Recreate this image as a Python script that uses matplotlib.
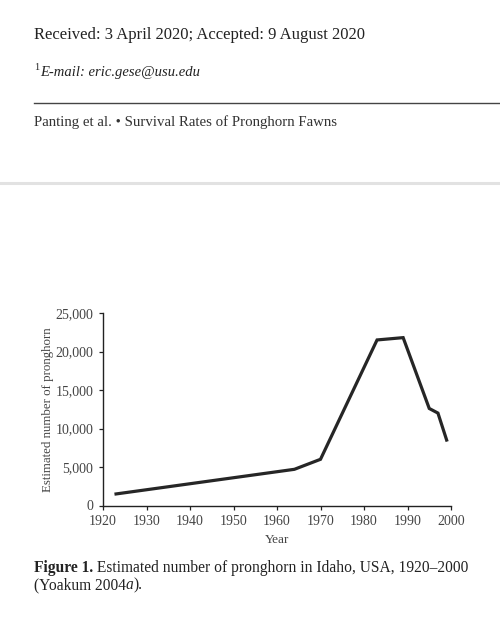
import matplotlib
matplotlib.use("Agg")
import matplotlib.pyplot as plt
from matplotlib.ticker import FuncFormatter

years = [1923, 1964, 1970, 1983, 1989, 1995, 1997, 1999]
pronghorn = [1500, 4700, 6000, 21500, 21800, 12600, 12000, 8500]
xticks = [1920, 1930, 1940, 1950, 1960, 1970, 1980, 1990, 2000]
yticks = [0, 5000, 10000, 15000, 20000, 25000]

plt.rcParams['font.family'] = ['Liberation Serif', 'DejaVu Serif']

W, H = 500, 621
fig = plt.figure(figsize=(5.0, 6.21), dpi=100)
fig.patch.set_facecolor('white')

def fx(px):
    return px / W

def fy(py):
    return 1 - py / H

renderer = fig.canvas.get_renderer()

def run_text(x_px, y_px, pieces, size, color='#222222'):
    x = x_px
    for txt, kw in pieces:
        t = fig.text(fx(x), fy(y_px), txt, fontsize=size, color=color,
                     va='baseline', ha='left', **kw)
        bb = t.get_window_extent(renderer=renderer)
        x += bb.width

# Header texts
fig.text(fx(34), fy(39), "Received: 3 April 2020; Accepted: 9 August 2020",
         fontsize=12, color='#222222', va='baseline', ha='left')
fig.text(fx(34), fy(70), "1", fontsize=7.5, color='#222222', va='baseline', ha='left')
fig.text(fx(40), fy(76), "E-mail: eric.gese@usu.edu", fontsize=10.5, style='italic',
         color='#222222', va='baseline', ha='left')
fig.add_artist(plt.Line2D([fx(34), 1.0], [fy(103), fy(103)], color='#444444', lw=1.0))
fig.text(fx(34), fy(126), "Panting et al. \u2022 Survival Rates of Pronghorn Fawns",
         fontsize=10.7, color='#333333', va='baseline', ha='left')
fig.add_artist(plt.Line2D([0, 1.0], [fy(182.5), fy(182.5)], color='#e2e2e2', lw=2.2))

# Chart
ax = fig.add_axes([fx(103), fy(505.5), fx(451) - fx(103), fy(313) - fy(505.5)])
ax.plot(years, pronghorn, color='#262626', lw=2.3, solid_joinstyle='miter')
ax.set_xlim(1920, 2000)
ax.set_ylim(0, 25000)
ax.set_xticks(xticks)
ax.set_yticks(yticks)
ax.yaxis.set_major_formatter(FuncFormatter(lambda v, p: f"{int(v):,}"))
for s in ['top', 'right']:
    ax.spines[s].set_visible(False)
for s in ['left', 'bottom']:
    ax.spines[s].set_color('#222222')
    ax.spines[s].set_linewidth(1.0)
ax.tick_params(direction='out', length=3, width=0.9, color='#222222',
               labelsize=10, labelcolor='#444444', pad=4)
ax.set_xlabel("Year", fontsize=9.5, color='#444444', labelpad=4)
ax.set_ylabel("Estimated number of pronghorn", fontsize=9.3, color='#444444', labelpad=1)

# Caption
run_text(34, 572, [("Figure 1.", dict(weight='bold')),
                   (" Estimated number of pronghorn in Idaho, USA, 1920\u20132000", {})],
         11.2)
run_text(34, 589, [("(Yoakum 2004", {}), ("a", dict(style='italic')), (").", {})], 11.2)

fig.savefig("out.png", dpi=100, facecolor='white')
